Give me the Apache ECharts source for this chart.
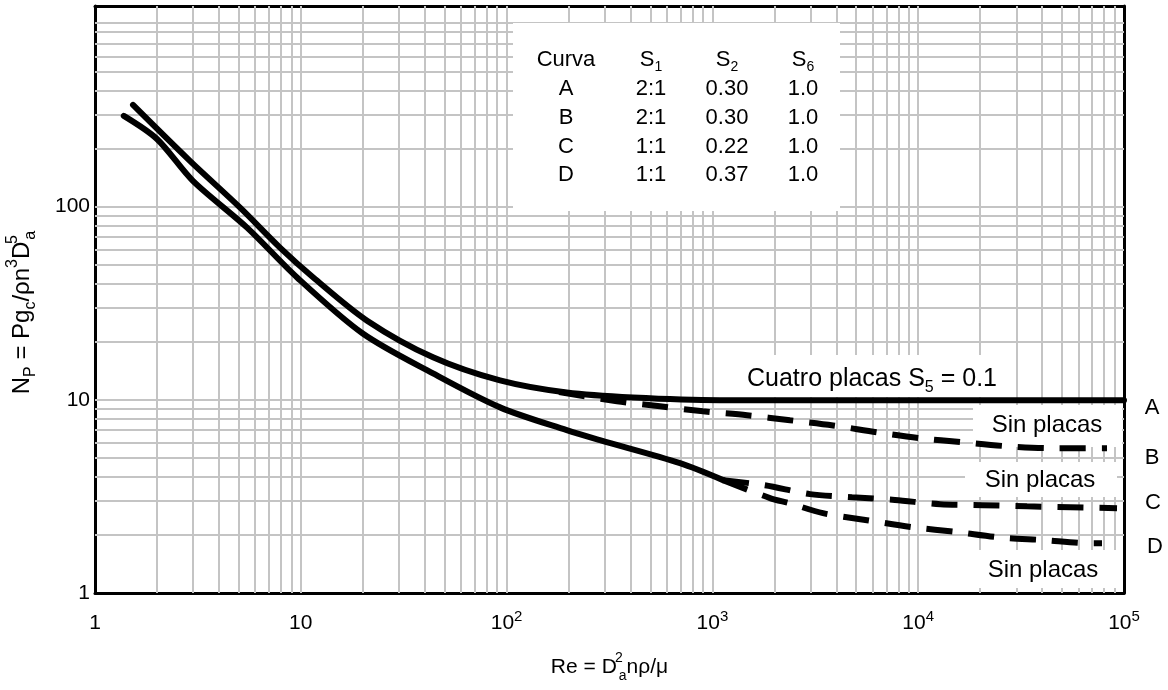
<!DOCTYPE html>
<html>
<head>
<meta charset="utf-8">
<title>Np vs Re</title>
<script src="https://cdn.jsdelivr.net/npm/echarts@6/dist/echarts.min.js"></script>
<style>
  body { margin: 0; background: #fff; }
  #main { width: 1168px; height: 690px; }
</style>
</head>
<body>
<div id="main"></div>
<script>
// curve A (solid, upper) - shared with B up to Re ~ 200
const reA = [1.53, 2.9, 5.07, 7.92, 11.5, 21, 43.9, 92.9, 196, 411, 1088, 100000];
const npA = [336, 172, 98.8, 61.4, 43.0, 25.7, 16.6, 12.6, 10.9, 10.27, 9.95, 9.95];
// curve B (dashed, branches from A)
const reB = [180, 344, 556, 900, 1473, 2383, 3855, 6300, 10200, 16300, 27000, 43700, 82700];
const npB = [10.98, 9.83, 9.26, 8.72, 8.32, 7.84, 7.37, 6.79, 6.33, 6.03, 5.75, 5.62, 5.62];
// lower solid curve, shared by C and D
const reLow = [1.38, 2.0, 2.99, 5.48, 9.59, 20, 43.9, 92.9, 196, 284, 696, 1127];
const npLow = [295, 224, 136, 77.9, 43.0, 22.05, 13.7, 9.14, 6.96, 6.18, 4.70, 3.84];
// curve C (dashed)
const reC = [1127, 1800, 2980, 4770, 7710, 12800, 20600, 33800, 54700, 92500];
const npC = [3.84, 3.61, 3.25, 3.13, 3.03, 2.88, 2.85, 2.81, 2.78, 2.75];
// curve D (dashed)
const reD = [1127, 1905, 2383, 3445, 5640, 9440, 15400, 24900, 40400, 68400, 78200];
const npD = [3.84, 3.10, 2.91, 2.59, 2.38, 2.19, 2.07, 1.94, 1.88, 1.81, 1.81];

const xTickLabels = ['1', '10', '10^2', '10^3', '10^4', '10^5'];
const yTickLabels = ['1', '10', '100', ''];

// table of curves
const tableHead = ['Curva', 'S{sub|1}', 'S{sub|2}', 'S{sub|6}'];
const tableCurva = ['A', 'B', 'C', 'D'];
const tableS1 = ['2:1', '2:1', '1:1', '1:1'];
const tableS2 = ['0.30', '0.30', '0.22', '0.37'];
const tableS6 = ['1.0', '1.0', '1.0', '1.0'];

const FONT = '"Liberation Sans", Arial, sans-serif';
const GRID = '#c4c4c4';

function zip(xs, ys) {
  return xs.map((x, i) => [x, ys[i]]);
}

// log grid lines 2..9 (and decades) inside the frame
let xGrid = [];
for (let k = 0; k < 5; k++) {
  for (let m = 1; m <= 9; m++) {
    if (k === 0 && m === 1) continue;
    xGrid.push({xAxis: m * Math.pow(10, k)});
  }
}
let yGrid = [];
for (let k = 0; k < 3; k++) {
  for (let m = 1; m <= 9; m++) {
    if (k === 0 && m === 1) continue;
    yGrid.push({yAxis: m * Math.pow(10, k)});
  }
}

function richFor(size) {
  return {
    sub: {fontSize: Math.round(size * 0.65), fontFamily: FONT, verticalAlign: 'bottom', lineHeight: Math.round(size * 0.75)},
    sup: {fontSize: Math.round(size * 0.65), fontFamily: FONT, verticalAlign: 'top', lineHeight: Math.round(size * 0.75)}
  };
}

// sup + sub stacked: the sup token takes no width
function stackRich(size, small) {
  return {
    sup0: {fontSize: small, fontFamily: FONT, verticalAlign: 'top', lineHeight: small + 1, width: 0, padding: [0, 0, 0, 2]},
    sup: {fontSize: small, fontFamily: FONT, verticalAlign: 'top', lineHeight: small + 1},
    sub: {fontSize: small, fontFamily: FONT, verticalAlign: 'bottom', lineHeight: small + 1}
  };
}

function txt(x, y, text, size, align) {
  return {
    type: 'text', x: x, y: y, z: 20,
    style: {
      text: text, fontSize: size, fontFamily: FONT, fill: '#000',
      align: align || 'center', verticalAlign: 'middle',
      lineHeight: Math.round(size * 1.3), rich: richFor(size)
    }
  };
}

function box(x, y, w, h) {
  return {type: 'rect', z: 6, shape: {x: x, y: y, width: w, height: h}, style: {fill: '#fff'}};
}

let graphics = [
  box(513, 23, 327, 188),
  box(743, 355, 272, 42),
  box(973, 405, 149, 42),
  box(965, 462, 152, 35),
  box(977, 550, 141, 38),
  txt(872, 379, 'Cuatro placas S{sub|5} = 0.1', 25),
  txt(1047, 425, 'Sin placas', 24),
  txt(1040, 480, 'Sin placas', 24),
  txt(1043, 570, 'Sin placas', 24),
  txt(1152, 408, 'A', 22),
  txt(1152, 458, 'B', 22),
  txt(1153, 503, 'C', 22),
  txt(1155, 547, 'D', 22)
];
const colX = [566, 651, 727, 803];
const rowY = [60, 89, 118, 147, 175];
tableHead.forEach((t, i) => graphics.push(txt(colX[i], rowY[0], t, 22)));
for (let r = 0; r < 4; r++) {
  graphics.push(txt(colX[0], rowY[r + 1], tableCurva[r], 22));
  graphics.push(txt(colX[1], rowY[r + 1], tableS1[r], 22));
  graphics.push(txt(colX[2], rowY[r + 1], tableS2[r], 22));
  graphics.push(txt(colX[3], rowY[r + 1], tableS6[r], 22));
}

let myChart = echarts.init(document.getElementById('main'));

const frameAxis = {
  axisLine: {show: true, lineStyle: {color: '#000', width: 3}},
  axisTick: {show: false},
  axisLabel: {show: false},
  splitLine: {show: false}
};

const solid = {color: '#000', width: 6, cap: 'round', join: 'round'};
const dashed = {color: '#000', width: 6, type: [26, 16]};

let option = {
  animation: false,
  backgroundColor: '#fff',
  grid: {left: 95, right: 44, top: 6, bottom: 97, containLabel: false, outerBoundsMode: 'none'},
  xAxis: [
    {
      type: 'log', logBase: 10, min: 1, max: 100000,
      axisLine: {show: true, lineStyle: {color: '#000', width: 3}},
      axisTick: {show: false},
      splitLine: {show: false},
      axisLabel: {
        margin: 16,
        fontSize: 21, fontFamily: FONT, color: '#000', lineHeight: 28,
        formatter: function (v) {
          let s = xTickLabels[Math.round(Math.log10(v))];
          if (s.indexOf('^') >= 0) {
            let p = s.split('^');
            return p[0] + '{sup|' + p[1] + '}';
          }
          return s;
        },
        rich: {sup: {fontSize: 15, fontFamily: FONT, verticalAlign: 'top', lineHeight: 16}}
      },
      name: 'Re = D{sup0|2}{sub|a}nρ/μ',
      nameLocation: 'middle', nameGap: 58,
      nameTextStyle: {
        fontSize: 21, fontFamily: FONT, color: '#000', lineHeight: 32,
        rich: stackRich(21, 14)
      }
    },
    Object.assign({type: 'log', logBase: 10, min: 1, max: 100000, position: 'top'}, frameAxis)
  ],
  yAxis: [
    {
      type: 'log', logBase: 10, min: 1, max: 1093,
      axisLine: {show: true, lineStyle: {color: '#000', width: 3}},
      axisTick: {show: false},
      splitLine: {show: false},
      axisLabel: {
        margin: 5,
        fontSize: 21, fontFamily: FONT, color: '#000',
        formatter: function (v) {
          return yTickLabels[Math.round(Math.log10(v))] || '';
        }
      },
      name: 'N{sub|P} = Pg{sub|c}/ρn{sup|3}D{sup0|5}{sub|a}',
      nameLocation: 'middle', nameGap: 56,
      nameTextStyle: {
        fontSize: 24, fontFamily: FONT, color: '#000', lineHeight: 34,
        padding: [0, 26, 0, 0],
        rich: stackRich(24, 16)
      }
    },
    Object.assign({type: 'log', logBase: 10, min: 1, max: 1093, position: 'right'}, frameAxis)
  ],
  graphic: graphics,
  series: [
    {
      name: 'grid', type: 'line', z: 1, silent: true,
      data: [[1, 1]], symbol: 'none', lineStyle: {opacity: 0},
      markLine: {
        z: 1, silent: true, symbol: 'none', label: {show: false},
        lineStyle: {color: GRID, width: 2, type: 'solid'},
        emphasis: {disabled: true},
        data: xGrid.concat(yGrid)
      }
    },
    {name: 'A', type: 'line', z: 10, data: zip(reA, npA), symbol: 'none', smooth: 0.3, lineStyle: solid},
    {name: 'B', type: 'line', z: 10, data: zip(reB, npB), symbol: 'none', smooth: 0.3, lineStyle: dashed},
    {name: 'CD', type: 'line', z: 10, data: zip(reLow, npLow), symbol: 'none', smooth: 0.3, lineStyle: solid},
    {name: 'C', type: 'line', z: 10, data: zip(reC, npC), symbol: 'none', smooth: 0.3, lineStyle: dashed},
    {name: 'D', type: 'line', z: 10, data: zip(reD, npD), symbol: 'none', smooth: 0.3, lineStyle: dashed}
  ]
};

option && myChart.setOption(option);
</script>
</body>
</html>
